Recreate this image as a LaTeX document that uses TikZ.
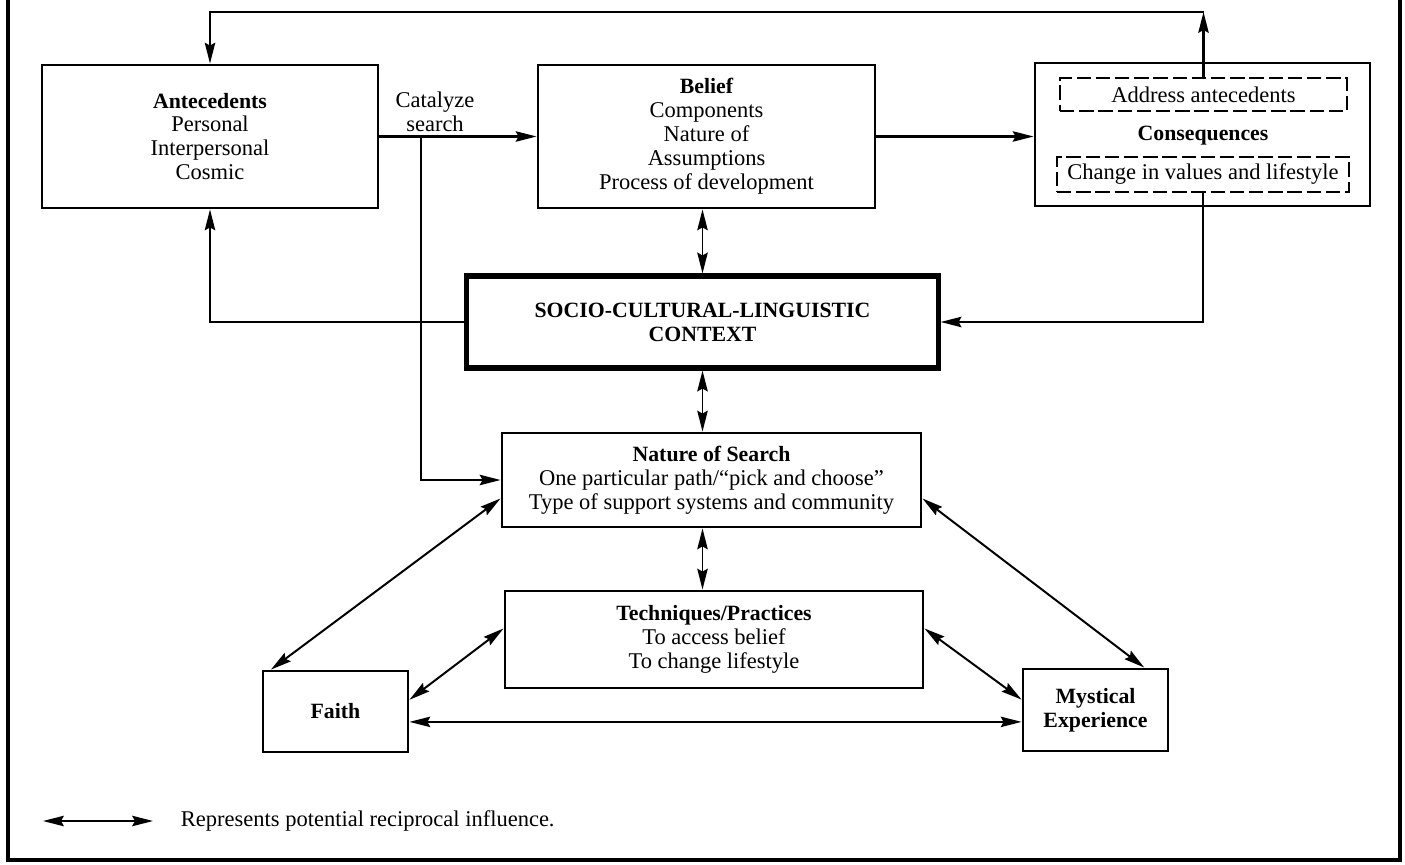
\documentclass[tikz,border=0pt]{standalone}
\usepackage{fontspec}
\setmainfont{Liberation Serif}
\usetikzlibrary{arrows.meta}

\newcommand{\boxhead}[1]{{\fontsize{15.5}{17}\selectfont\bfseries #1}}

\begin{document}
\begin{tikzpicture}[x=0.025cm, y=-0.025cm,
    every node/.style={font=\fontsize{16}{17}\selectfont, align=center},
    block/.style={draw, line width=2pt, inner sep=0pt},
    subblock/.style={draw, line width=1.6pt, dash pattern=on 0.36cm off 0.12cm, inner sep=0pt},
    link/.style={line width=1.5pt, -{Stealth[length=0.52cm,width=0.26cm,inset=0.07cm]}},
    twoway/.style={line width=1.4pt, {Stealth[length=0.52cm,width=0.26cm,inset=0.07cm]}-{Stealth[length=0.52cm,width=0.26cm,inset=0.07cm]}}]

    % Page size and frame
    \useasboundingbox (0,0) rectangle (1405,865);
    \draw[line width=2.4pt] (8,0) -- (8,860) -- (1400,860) -- (1400,0);

    % Top row
    \node[block, minimum width=8.4cm, minimum height=3.575cm] (ante) at (210,136.5)
        {\boxhead{Antecedents}\\Personal\\Interpersonal\\Cosmic};
    \node[block, minimum width=8.425cm, minimum height=3.575cm] (belief) at (706.5,136.5)
        {\boxhead{Belief}\\Components\\Nature of\\Assumptions\\Process of development};
    \node[block, minimum width=8.375cm, minimum height=3.575cm] (conseq) at (1202.5,134.5) {};
    \node[subblock, minimum width=7.175cm, minimum height=0.825cm] (addr) at (1203.5,94.5) {Address antecedents};
    \node (conlabel) at (1203,136) {\boxhead{Consequences}};
    \node[subblock, minimum width=7.3cm, minimum height=0.875cm] (change) at (1203,174.5) {Change in values and lifestyle};

    % Context
    \node[block, line width=3.6pt, minimum width=11.775cm, minimum height=2.3cm] (scl) at (702.5,322)
        {\boxhead{SOCIO-CULTURAL-LINGUISTIC}\\\boxhead{CONTEXT}};

    % Search and practices
    \node[block, minimum width=10.475cm, minimum height=2.35cm] (search) at (711.5,480)
        {\boxhead{Nature of Search}\\One particular path/``pick and choose''\\Type of support systems and community};
    \node[block, minimum width=10.45cm, minimum height=2.425cm] (tech) at (714,639.5)
        {\boxhead{Techniques/Practices}\\To access belief\\To change lifestyle};
    \node[block, minimum width=3.625cm, minimum height=2.025cm] (faith) at (335.5,711.5) {\boxhead{Faith}};
    \node[block, minimum width=3.625cm, minimum height=2.05cm] (myst) at (1095.5,710) {\boxhead{Mystical}\\\boxhead{Experience}};

    % Helper points
    \coordinate (topline) at (0,12);
    \coordinate (catx) at (421,0);

    % Connectors
    \draw[link] (ante.east) -- (belief.west);
    \node (catalyze) at (435,111.5) {Catalyze\\search};
    \draw[link] (ante.east -| catx) |- (search.west);
    \draw[link] (belief.east) -- (belief.east -| conseq.west);
    \draw[link] (addr.north) -- (addr.north |- topline);
    \draw[link] (addr.north |- topline) -| (ante.north);
    \draw[link] (change.south) |- (scl.east);
    \draw[link] (scl.west) -| (ante.south);

    \draw[twoway] (belief.south -| scl.north) -- (scl.north);
    \draw[twoway] (scl.south) -- (scl.south |- search.north);
    \draw[twoway] (search.south -| scl.south) -- (scl.south |- tech.north);

    \draw[twoway] (faith.147) -- (search.185);
    \draw[twoway] (faith.9) -- (tech.177);
    \draw[twoway] (myst.172) -- (tech.3);
    \draw[twoway] (myst.41) -- (search.-5);
    \draw[twoway] (faith.-8) -- (faith.-8 -| myst.west);

    % Legend
    \coordinate (legA) at (43,821);
    \coordinate (legB) at (153,821);
    \draw[twoway] (legA) -- (legB);
    \node[anchor=west] (legtext) at (176,821) {Represents potential reciprocal influence.};

\end{tikzpicture}
\end{document}
